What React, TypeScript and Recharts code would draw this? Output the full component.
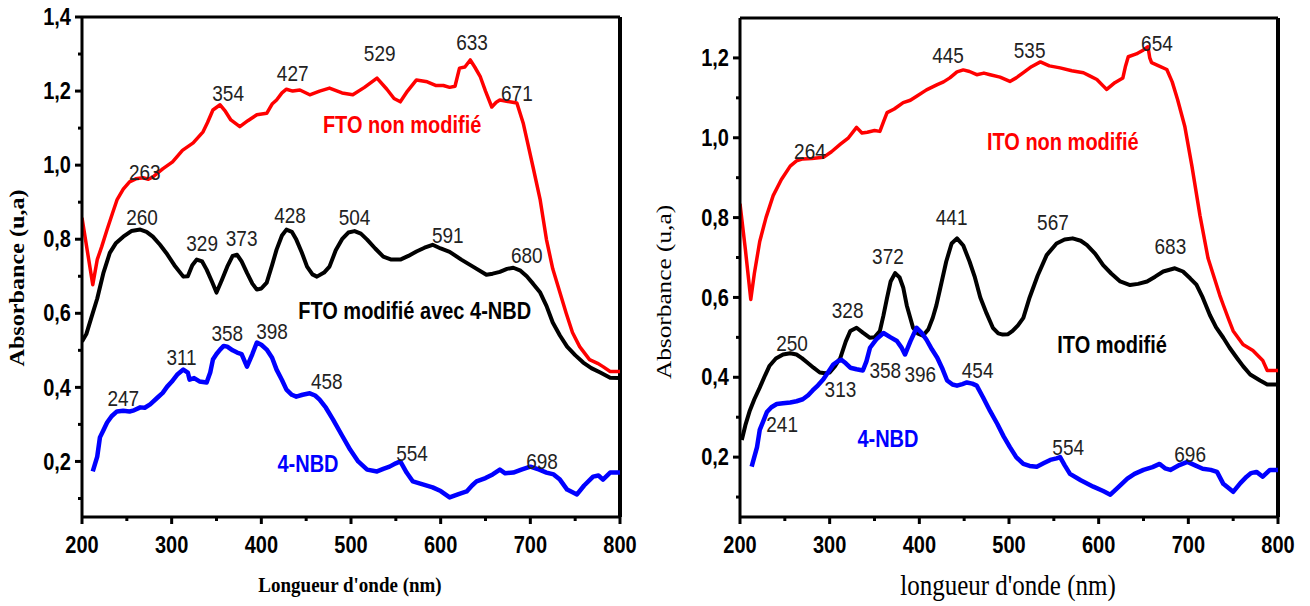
import React from "react";
import { LineChart, Line, XAxis, YAxis, ReferenceDot, ReferenceLine } from "recharts";

type Pt = [number, number];
type Tag = [number, number, string];

// ---- left panel (FTO) ----
const ftoBare: Pt[] = [
  [200, 0.858], [212, 0.677], [217, 0.745], [222, 0.78], [228, 0.826], [234, 0.87], [239, 0.906], [246, 0.935],
  [253, 0.955], [260, 0.963], [268, 0.966], [274, 0.962], [279, 0.968], [290, 0.99], [301, 1.009], [312, 1.04],
  [324, 1.06], [335, 1.09], [340, 1.115], [346, 1.149], [354, 1.163], [360, 1.145], [366, 1.122], [376, 1.104],
  [385, 1.12], [395, 1.136], [406, 1.14], [412, 1.165], [417, 1.176], [423, 1.195], [428, 1.205], [435, 1.2],
  [443, 1.203], [454, 1.19], [465, 1.2], [476, 1.208], [490, 1.195], [502, 1.19], [515, 1.21], [529, 1.235],
  [540, 1.205], [548, 1.18], [555, 1.171], [563, 1.2], [573, 1.23], [585, 1.225], [595, 1.215], [603, 1.215],
  [610, 1.21], [616, 1.213], [621, 1.262], [627, 1.265], [633, 1.284], [638, 1.265], [644, 1.24], [650, 1.2],
  [657, 1.157], [662, 1.17], [666, 1.176], [675, 1.172], [685, 1.168], [692, 1.114], [697, 1.06], [703, 0.995],
  [711, 0.906], [718, 0.799], [725, 0.72], [733, 0.656], [740, 0.6], [747, 0.548], [755, 0.51], [766, 0.475],
  [775, 0.465], [781, 0.456], [789, 0.443], [800, 0.443],
];

const ftoNbd: Pt[] = [
  [200, 0.524], [205, 0.545], [210, 0.585], [217, 0.64], [224, 0.71], [231, 0.763], [238, 0.79], [246, 0.807],
  [255, 0.822], [265, 0.826], [272, 0.82], [279, 0.807], [287, 0.785], [294, 0.763], [303, 0.73], [313, 0.699],
  [318, 0.7], [323, 0.73], [328, 0.745], [334, 0.74], [339, 0.718], [345, 0.685], [350, 0.656], [356, 0.69],
  [362, 0.726], [368, 0.755], [373, 0.758], [378, 0.74], [384, 0.709], [390, 0.68], [395, 0.664], [400, 0.667],
  [406, 0.683], [412, 0.73], [417, 0.772], [423, 0.81], [428, 0.826], [434, 0.82], [439, 0.799], [445, 0.765],
  [451, 0.726], [457, 0.705], [462, 0.699], [470, 0.71], [476, 0.726], [483, 0.77], [490, 0.8], [497, 0.818],
  [504, 0.822], [511, 0.815], [518, 0.799], [527, 0.775], [536, 0.753], [545, 0.745], [555, 0.745], [564, 0.755],
  [573, 0.767], [582, 0.777], [591, 0.785], [600, 0.775], [610, 0.766], [623, 0.745], [636, 0.726], [651, 0.704],
  [658, 0.707], [666, 0.712], [674, 0.72], [681, 0.723], [689, 0.715], [696, 0.7], [703, 0.68], [711, 0.656],
  [718, 0.62], [725, 0.575], [733, 0.54], [741, 0.51], [750, 0.487], [759, 0.467], [768, 0.452], [778, 0.44],
  [789, 0.426], [800, 0.425],
];

const nbdLeft: Pt[] = [
  [212, 0.173], [217, 0.213], [220, 0.265], [224, 0.285], [228, 0.305], [233, 0.322], [239, 0.335], [246, 0.337],
  [253, 0.335], [258, 0.338], [265, 0.346], [270, 0.345], [276, 0.354], [284, 0.372], [290, 0.385], [295, 0.402],
  [300, 0.415], [306, 0.434], [313, 0.448], [318, 0.44], [320, 0.421], [325, 0.425], [331, 0.416], [339, 0.413],
  [343, 0.44], [346, 0.475], [350, 0.49], [354, 0.502], [358, 0.512], [362, 0.51], [368, 0.5], [373, 0.494],
  [378, 0.49], [384, 0.456], [390, 0.49], [395, 0.521], [400, 0.515], [406, 0.502], [412, 0.48], [417, 0.448],
  [423, 0.42], [428, 0.394], [434, 0.38], [439, 0.375], [446, 0.38], [454, 0.384], [460, 0.378], [465, 0.367],
  [472, 0.345], [480, 0.313], [490, 0.27], [499, 0.232], [508, 0.2], [518, 0.178], [529, 0.173], [536, 0.18],
  [543, 0.186], [550, 0.195], [555, 0.2], [562, 0.17], [569, 0.146], [580, 0.138], [591, 0.13], [600, 0.12],
  [610, 0.103], [620, 0.112], [629, 0.119], [635, 0.135], [640, 0.146], [650, 0.155], [658, 0.165], [666, 0.178],
  [672, 0.168], [681, 0.17], [690, 0.178], [700, 0.186], [710, 0.178], [718, 0.17], [726, 0.165], [733, 0.151],
  [741, 0.124], [752, 0.111], [760, 0.135], [770, 0.159], [776, 0.162], [781, 0.151], [789, 0.17], [800, 0.17],
];

// ---- right panel (ITO) ----
const itoBare: Pt[] = [
  [200, 0.835], [206, 0.72], [212, 0.595], [216, 0.66], [222, 0.74], [229, 0.8], [237, 0.855], [246, 0.895],
  [256, 0.929], [263, 0.942], [270, 0.947], [280, 0.948], [293, 0.951], [302, 0.965], [312, 0.984], [321, 1.0],
  [330, 1.026], [336, 1.012], [342, 1.014], [350, 1.018], [356, 1.016], [360, 1.04], [364, 1.063], [372, 1.072],
  [382, 1.088], [390, 1.094], [397, 1.104], [408, 1.12], [420, 1.133], [427, 1.14], [434, 1.15], [442, 1.165],
  [449, 1.17], [456, 1.166], [464, 1.158], [472, 1.162], [479, 1.158], [490, 1.152], [501, 1.141], [508, 1.15],
  [516, 1.163], [525, 1.178], [535, 1.19], [545, 1.18], [557, 1.175], [570, 1.168], [583, 1.163], [590, 1.155],
  [598, 1.146], [605, 1.13], [609, 1.121], [618, 1.138], [627, 1.15], [630, 1.18], [633, 1.203], [642, 1.21],
  [650, 1.22], [655, 1.228], [657, 1.2], [659, 1.188], [667, 1.18], [676, 1.171], [682, 1.14], [688, 1.096],
  [696, 1.029], [704, 0.929], [713, 0.805], [722, 0.698], [735, 0.606], [739, 0.581], [745, 0.545], [750, 0.516],
  [761, 0.482], [772, 0.467], [783, 0.442], [788, 0.417], [800, 0.417],
];

const itoNbd: Pt[] = [
  [202, 0.243], [206, 0.28], [211, 0.317], [216, 0.345], [222, 0.374], [228, 0.405], [233, 0.429], [240, 0.447],
  [248, 0.457], [256, 0.46], [263, 0.457], [269, 0.448], [275, 0.437], [282, 0.424], [289, 0.412], [295, 0.41],
  [300, 0.412], [306, 0.428], [312, 0.449], [318, 0.49], [323, 0.516], [330, 0.524], [337, 0.512], [345, 0.499],
  [350, 0.5], [356, 0.516], [360, 0.555], [364, 0.599], [368, 0.64], [373, 0.661], [378, 0.65], [382, 0.625],
  [386, 0.58], [393, 0.524], [398, 0.51], [404, 0.504], [410, 0.52], [415, 0.549], [419, 0.58], [423, 0.62],
  [430, 0.69], [436, 0.735], [442, 0.748], [449, 0.73], [456, 0.69], [462, 0.65], [468, 0.6], [475, 0.56],
  [482, 0.524], [488, 0.51], [493, 0.507], [499, 0.508], [504, 0.516], [510, 0.53], [516, 0.549], [523, 0.6],
  [532, 0.655], [542, 0.706], [553, 0.735], [562, 0.745], [571, 0.748], [580, 0.742], [587, 0.731], [596, 0.71],
  [605, 0.681], [614, 0.66], [624, 0.64], [635, 0.631], [644, 0.634], [654, 0.64], [663, 0.652], [672, 0.665],
  [685, 0.673], [694, 0.665], [702, 0.648], [709, 0.632], [716, 0.6], [724, 0.556], [731, 0.525], [739, 0.499],
  [746, 0.474], [754, 0.449], [761, 0.428], [769, 0.407], [780, 0.392], [788, 0.382], [800, 0.382],
];

const nbdRight: Pt[] = [
  [213, 0.176], [219, 0.225], [222, 0.268], [226, 0.29], [230, 0.313], [235, 0.325], [241, 0.333], [248, 0.335],
  [256, 0.337], [263, 0.34], [270, 0.345], [276, 0.355], [281, 0.367], [287, 0.38], [293, 0.395], [299, 0.415],
  [304, 0.432], [309, 0.44], [313, 0.444], [318, 0.435], [323, 0.424], [330, 0.42], [337, 0.417], [341, 0.44],
  [345, 0.474], [352, 0.495], [360, 0.511], [368, 0.5], [375, 0.491], [380, 0.475], [384, 0.457], [390, 0.49],
  [397, 0.524], [403, 0.51], [408, 0.494], [414, 0.47], [420, 0.449], [426, 0.42], [431, 0.392], [437, 0.382],
  [442, 0.379], [448, 0.383], [453, 0.387], [459, 0.384], [464, 0.379], [471, 0.35], [479, 0.315], [487, 0.283],
  [494, 0.252], [501, 0.225], [508, 0.2], [516, 0.183], [523, 0.178], [531, 0.176], [539, 0.185], [546, 0.193],
  [553, 0.197], [557, 0.2], [562, 0.18], [568, 0.158], [580, 0.142], [594, 0.126], [605, 0.115], [613, 0.106],
  [622, 0.125], [632, 0.146], [640, 0.158], [650, 0.168], [660, 0.175], [668, 0.183], [674, 0.172], [680, 0.168],
  [690, 0.18], [699, 0.188], [707, 0.18], [716, 0.171], [725, 0.168], [732, 0.163], [739, 0.133], [750, 0.113],
  [758, 0.135], [765, 0.151], [770, 0.16], [776, 0.163], [783, 0.151], [791, 0.168], [800, 0.168],
];

// peak annotations: [wavelength, absorbance where the text sits, text]
const ftoBarePeaks: Tag[] = [[270, 0.982, "263"], [363, 1.195, "354"], [435, 1.249, "427"], [532, 1.303, "529"], [635, 1.333, "633"], [685, 1.195, "671"]];
const ftoNbdPeaks: Tag[] = [[267, 0.861, "260"], [334, 0.79, "329"], [378, 0.804, "373"], [432, 0.866, "428"], [504, 0.861, "504"], [608, 0.812, "591"], [696, 0.758, "680"]];
const nbdLeftPeaks: Tag[] = [[246, 0.372, "247"], [311, 0.483, "311"], [362, 0.548, "358"], [412, 0.553, "398"], [473, 0.416, "458"], [568, 0.224, "554"], [713, 0.2, "698"]];
const itoBarePeaks: Tag[] = [[278, 0.967, "264"], [432, 1.208, "445"], [523, 1.22, "535"], [665, 1.238, "654"]];
const itoNbdPeaks: Tag[] = [[258, 0.487, "250"], [320, 0.569, "328"], [365, 0.703, "372"], [436, 0.802, "441"], [549, 0.79, "567"], [680, 0.728, "683"]];
const nbdRightPeaks: Tag[] = [[247, 0.283, "241"], [312, 0.37, "313"], [362, 0.417, "358"], [401, 0.407, "396"], [465, 0.417, "454"], [566, 0.225, "554"], [702, 0.208, "696"]];

const ftoNames: Tag[] = [[557, 1.109, "FTO non modifié"], [571, 0.606, "FTO modifié avec 4-NBD"], [452, 0.192, "4-NBD"]];
const itoNames: Tag[] = [[560, 0.989, "ITO non modifié"], [615, 0.482, "ITO modifié"], [365, 0.245, "4-NBD"]];

const xTicks = [200, 250, 300, 350, 400, 450, 500, 550, 600, 650, 700, 750, 800];
const ftoYTicks = [0.1, 0.2, 0.3, 0.4, 0.5, 0.6, 0.7, 0.8, 0.9, 1.0, 1.1, 1.2, 1.3, 1.4];
const itoYTicks = [0.1, 0.2, 0.3, 0.4, 0.5, 0.6, 0.7, 0.8, 0.9, 1.0, 1.1, 1.2];

const RED = "#ff0000";
const BLUE = "#0000ff";
const BLACK = "#000000";
const NUM_COLOR = "#222222";
const SANS = "'Liberation Sans', Arial, sans-serif";
const NARROW = "'Liberation Sans Narrow', 'Liberation Sans', Arial, sans-serif";
const SERIF = "'Liberation Serif', 'Times New Roman', serif";

const TICK = 7;
const GAP = 4;

const rows = (pts: Pt[]) => pts.map(([x, y]) => ({ x, y }));
const comma = (v: number) => v.toFixed(1).replace(".", ",");

function YTick(props: any) {
  const { x, y, payload } = props;
  const v = payload.value as number;
  const major = Math.round(v * 10) % 2 === 0;
  const inner = x + GAP + TICK;
  return (
    <g>
      <line x1={inner - (major ? TICK : 4)} x2={inner} y1={y} y2={y} stroke={BLACK} strokeWidth={3} />
      {major && (
        <text
          transform={`translate(${x},${y}) scale(1,1.2)`}
          textAnchor="end"
          dominantBaseline="central"
          fontFamily={SANS}
          fontWeight="bold"
          fontSize={20}
          fill={BLACK}
        >
          {comma(v)}
        </text>
      )}
    </g>
  );
}

function XTick(props: any) {
  const { x, y, payload } = props;
  const v = payload.value as number;
  const major = v % 100 === 0;
  const inner = y - GAP - TICK;
  return (
    <g>
      <line x1={x} x2={x} y1={inner} y2={inner + (major ? TICK : 4)} stroke={BLACK} strokeWidth={3} />
      {major && (
        <text
          transform={`translate(${x},${y + 8}) scale(1,1.2)`}
          textAnchor="middle"
          dominantBaseline="hanging"
          fontFamily={SANS}
          fontWeight="bold"
          fontSize={20}
          fill={BLACK}
        >
          {v}
        </text>
      )}
    </g>
  );
}

function tagDots(tags: Tag[], color: string, bold: boolean, prefix: string) {
  return tags.map(([x, y, text], i) => (
    <ReferenceDot
      key={`${prefix}-${i}`}
      x={x}
      y={y}
      r={0}
      shape={(p: any) => (
        <text
          transform={`translate(${p.cx},${p.cy}) scale(1,1.15)`}
          textAnchor="middle"
          dominantBaseline="central"
          fill={color}
          fontFamily={bold ? SANS : NARROW}
          fontWeight={bold ? "bold" : "normal"}
          fontSize={bold ? 20 : 19}
        >
          {text}
        </text>
      )}
    />
  ));
}

interface PanelProps {
  left: number;
  width: number;
  top: number;
  axisWidth: number;
  rightMargin: number;
  yMax: number;
  yTicks: number[];
  bare: Pt[];
  modified: Pt[];
  nbd: Pt[];
  barePeaks: Tag[];
  modPeaks: Tag[];
  nbdPeaks: Tag[];
  names: Tag[];
}

function Panel(p: PanelProps) {
  return (
    <div style={{ position: "absolute", left: p.left, top: 0 }}>
      <LineChart width={p.width} height={606} margin={{ top: p.top, right: p.rightMargin, bottom: 0, left: 0 }}>
        <XAxis
          type="number"
          dataKey="x"
          domain={[200, 800]}
          ticks={xTicks}
          interval={0}
          allowDataOverflow
          height={89}
          tickSize={TICK}
          tickMargin={GAP}
          tickLine={false}
          tick={<XTick />}
          axisLine={{ stroke: BLACK, strokeWidth: 3 }}
        />
        <YAxis
          type="number"
          dataKey="y"
          domain={[0.05, p.yMax]}
          ticks={p.yTicks}
          interval={0}
          allowDataOverflow
          width={p.axisWidth}
          tickSize={TICK}
          tickMargin={GAP}
          tickLine={false}
          tick={<YTick />}
          axisLine={{ stroke: BLACK, strokeWidth: 3 }}
        />
        <ReferenceLine y={p.yMax} stroke={BLACK} strokeWidth={3} />
        <ReferenceLine x={800} stroke={BLACK} strokeWidth={4} />
        <Line data={rows(p.bare)} dataKey="y" type="linear" stroke={RED} strokeWidth={3.5} strokeLinejoin="round" dot={false} isAnimationActive={false} />
        <Line data={rows(p.modified)} dataKey="y" type="linear" stroke={BLACK} strokeWidth={4} strokeLinejoin="round" dot={false} isAnimationActive={false} />
        <Line data={rows(p.nbd)} dataKey="y" type="linear" stroke={BLUE} strokeWidth={4.5} strokeLinejoin="round" dot={false} isAnimationActive={false} />
        {tagDots(p.barePeaks, NUM_COLOR, false, "bp")}
        {tagDots(p.modPeaks, NUM_COLOR, false, "mp")}
        {tagDots(p.nbdPeaks, NUM_COLOR, false, "np")}
        {tagDots([p.names[0]], RED, true, "n0")}
        {tagDots([p.names[1]], BLACK, true, "n1")}
        {tagDots([p.names[2]], BLUE, true, "n2")}
      </LineChart>
    </div>
  );
}

const yTitle = (cx: number, cy: number, bold: boolean, size: number) => (
  <div
    style={{
      position: "absolute",
      left: cx,
      top: cy,
      transform: "translate(-50%,-50%) rotate(-90deg) scale(1.15,1)",
      whiteSpace: "nowrap",
      fontFamily: SERIF,
      fontWeight: bold ? "bold" : "normal",
      fontSize: size,
      lineHeight: 1,
    }}
  >
    Absorbance (u,a)
  </div>
);

const xTitle = (cx: number, cy: number, text: string, bold: boolean, size: number) => (
  <div
    style={{
      position: "absolute",
      left: cx,
      top: cy,
      transform: "translate(-50%,-50%) scale(1,1.15)",
      whiteSpace: "nowrap",
      fontFamily: SERIF,
      fontWeight: bold ? "bold" : "normal",
      fontSize: size,
      lineHeight: 1,
    }}
  >
    {text}
  </div>
);

export default function App() {
  return (
    <div style={{ position: "absolute", left: 0, top: 0, width: 1310, height: 606, background: "#fff", overflow: "hidden" }}>
      <Panel
        left={0}
        width={640}
        top={17}
        axisWidth={82}
        rightMargin={20}
        yMax={1.4}
        yTicks={ftoYTicks}
        bare={ftoBare}
        modified={ftoNbd}
        nbd={nbdLeft}
        barePeaks={ftoBarePeaks}
        modPeaks={ftoNbdPeaks}
        nbdPeaks={nbdLeftPeaks}
        names={ftoNames}
      />
      <Panel
        left={650}
        width={660}
        top={18}
        axisWidth={90}
        rightMargin={32}
        yMax={1.3}
        yTicks={itoYTicks}
        bare={itoBare}
        modified={itoNbd}
        nbd={nbdRight}
        barePeaks={itoBarePeaks}
        modPeaks={itoNbdPeaks}
        nbdPeaks={nbdRightPeaks}
        names={itoNames}
      />
      {yTitle(17, 278, true, 21)}
      {yTitle(664, 292, false, 22)}
      {xTitle(350, 585, "Longueur d'onde (nm)", true, 19)}
      {xTitle(1008, 585, "longueur d'onde (nm)", false, 25)}
    </div>
  );
}
